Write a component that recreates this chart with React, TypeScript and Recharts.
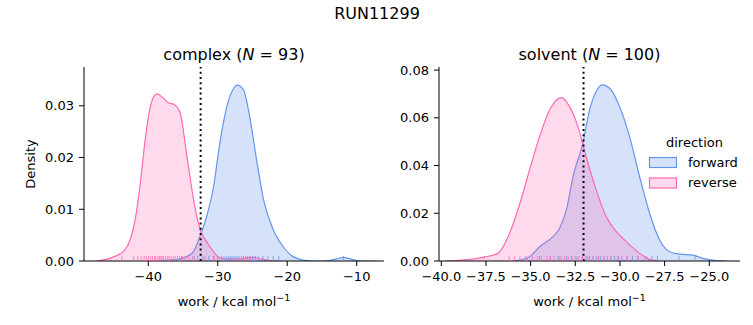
import React from 'react';
import { ComposedChart, Area, XAxis, YAxis, Scatter, ReferenceLine } from 'recharts';

const FONT = '"DejaVu Sans", Verdana, sans-serif';
const BLUE = '#6495ED';
const PINK = '#FF69B4';

// ---- complex panel ----
const complexFwdX = [-38.5, -37.8, -36.5, -35.4, -34.4, -33.5, -32.5, -31.6, -30.6, -29.7, -28.7, -27.7, -27.2, -26.3, -25.4, -24.4, -23.4, -22.0, -20.6, -19.1, -17.2, -15.5, -14.0, -12.9, -11.9, -10.9, -10.0, -8.5, -7.0];
const complexFwdY = [0, 0.0001, 0.0002, 0.0004, 0.0009, 0.0018, 0.005, 0.0086, 0.0144, 0.0228, 0.0298, 0.0334, 0.034, 0.0331, 0.0279, 0.0195, 0.0118, 0.006, 0.0028, 0.0008, 0.0001, 0.0, 0.0001, 0.0004, 0.0007, 0.0004, 0.0001, 0, 0];
const complexRevX = [-47.5, -46.0, -45.0, -43.6, -42.6, -41.9, -41.2, -40.5, -39.8, -39.2, -38.7, -38.1, -37.1, -36.2, -35.4, -34.7, -34.0, -33.3, -32.5, -31.6, -30.6, -29.7, -28.5, -27.0, -25.8, -24.9, -23.8, -22.5, -21.0];
const complexRevY = [0, 0.0003, 0.0008, 0.0018, 0.0041, 0.0079, 0.0144, 0.0228, 0.0292, 0.0318, 0.0323, 0.0318, 0.0306, 0.0302, 0.0286, 0.0228, 0.0163, 0.0105, 0.006, 0.0037, 0.0018, 0.0006, 0.0004, 0.0004, 0.0006, 0.0007, 0.0004, 0.0001, 0];
const complexRugFwd = [-35.2, -33.4, -32.1, -31.3, -30.6, -30.0, -29.5, -29.1, -28.7, -28.4, -28.1, -27.8, -27.5, -27.2, -26.9, -26.6, -26.3, -26.0, -25.7, -25.4, -25.0, -24.6, -24.1, -23.5, -22.8, -22.0, -21.2, -11.9];
const complexRugRev = [-43.8, -42.1, -41.5, -41.0, -40.6, -40.3, -40.0, -39.7, -39.4, -39.1, -38.9, -38.6, -38.4, -38.2, -38.0, -37.8, -37.5, -37.2, -37.0, -36.7, -36.4, -36.1, -35.8, -35.5, -35.1, -34.7, -34.2, -33.6, -32.9, -31.8, -30.5, -25.3, -24.6];
const complexThreshold = -32.46;
const complexXTicks = [-40, -30, -20, -10];
const complexYTicks = [0, 0.01, 0.02, 0.03];

// ---- solvent panel ----
const solventFwdX = [-36.0, -35.6, -35.06, -34.5, -33.75, -33.38, -33.0, -32.63, -32.08, -31.7, -31.33, -31.0, -30.58, -30.02, -29.46, -28.9, -28.34, -27.78, -27.22, -26.66, -25.92, -25.36, -24.6, -24.0];
const solventFwdY = [0, 0.0004, 0.0018, 0.006, 0.0102, 0.0137, 0.0214, 0.0353, 0.0493, 0.0633, 0.071, 0.0738, 0.0724, 0.0647, 0.0521, 0.0353, 0.02, 0.0088, 0.0039, 0.0029, 0.0025, 0.0011, 0.0002, 0];
const solventRevX = [-39.8, -39.0, -38.23, -37.48, -36.83, -36.18, -35.6, -35.06, -34.5, -33.94, -33.28, -32.82, -32.35, -31.89, -31.33, -30.77, -30.2, -29.65, -28.9, -28.34, -27.8];
const solventRevY = [0, 0.0003, 0.0008, 0.0018, 0.0032, 0.0116, 0.0242, 0.0382, 0.0521, 0.0633, 0.0685, 0.0647, 0.0563, 0.0437, 0.0298, 0.0186, 0.0123, 0.0081, 0.0032, 0.0007, 0];
const solventRugFwd = [-35.3, -34.5, -33.9, -33.4, -33.0, -32.7, -32.4, -32.1, -31.9, -31.7, -31.5, -31.3, -31.1, -30.9, -30.7, -30.5, -30.3, -30.1, -29.9, -29.6, -29.3, -29.0, -28.6, -28.2, -27.9, -26.7, -25.8];
const solventRugRev = [-37.6, -36.2, -35.9, -35.6, -35.2, -34.9, -34.6, -34.4, -34.1, -33.9, -33.7, -33.5, -33.3, -33.1, -32.9, -32.7, -32.5, -32.3, -32.1, -31.8, -31.5, -31.2, -30.9, -30.5, -30.1, -29.6, -29.0, -28.5];
const solventThreshold = -32.04;
const solventXTicks = [-40, -37.5, -35, -32.5, -30, -27.5, -25];
const solventYTicks = [0, 0.02, 0.04, 0.06, 0.08];

function merge(fx: number[], fy: number[], rx: number[], ry: number[]) {
  const rows: any[] = [];
  fx.forEach((x, i) => rows.push({ x, fwd: fy[i] }));
  rx.forEach((x, i) => rows.push({ x, rev: ry[i] }));
  rows.sort((a, b) => a.x - b.x);
  return rows;
}

const fmt = (d: number) => (v: number) => (v < 0 ? '\u2212' : '') + Math.abs(v).toFixed(d);

const rugShape = (color: string) => (props: any) => {
  const { cx, cy } = props;
  if (cx == null || cy == null) return <g />;
  return <line x1={cx} x2={cx} y1={cy} y2={cy - 5} stroke={color} strokeOpacity={0.75} strokeWidth={1} />;
};

const tickStyle = { fill: '#000', fontSize: 13, fontFamily: FONT };

function Panel(props: {
  width: number; left: number; marginLeft: number; marginRight: number; yWidth: number;
  fx: number[]; fy: number[]; rx: number[]; ry: number[]; rugF: number[]; rugR: number[];
  xDomain: [number, number]; yDomain: [number, number]; xTicks: number[]; yTicks: number[];
  xDigits: number; threshold: number;
}) {
  const data = merge(props.fx, props.fy, props.rx, props.ry);
  return (
    <div style={{ position: 'absolute', left: props.left, top: 0 }}>
      <ComposedChart width={props.width} height={325} data={data}
        margin={{ top: 67, right: props.marginRight, bottom: 34, left: props.marginLeft }}>
        <XAxis dataKey="x" type="number" domain={props.xDomain} ticks={props.xTicks} allowDataOverflow
          tickFormatter={fmt(props.xDigits)} tick={tickStyle} tickSize={5} tickMargin={6} height={30}
          axisLine={{ stroke: '#000', strokeWidth: 1 }} tickLine={{ stroke: '#000', strokeWidth: 1 }} interval={0} />
        <YAxis type="number" domain={props.yDomain} ticks={props.yTicks} allowDataOverflow
          tickFormatter={fmt(2)} tick={tickStyle} tickSize={5} tickMargin={5} width={props.yWidth}
          axisLine={{ stroke: '#000', strokeWidth: 1 }} tickLine={{ stroke: '#000', strokeWidth: 1 }} interval={0} />
        <Area dataKey="fwd" type="monotone" connectNulls stroke={BLUE} strokeWidth={1.2}
          fill={BLUE} fillOpacity={0.27} isAnimationActive={false} dot={false} activeDot={false} />
        <Area dataKey="rev" type="monotone" connectNulls stroke={PINK} strokeWidth={1.2}
          fill={PINK} fillOpacity={0.25} isAnimationActive={false} dot={false} activeDot={false} />
        <Scatter data={props.rugF.map((x) => ({ x, r: 0 }))} dataKey="r" shape={rugShape(BLUE)} isAnimationActive={false} />
        <Scatter data={props.rugR.map((x) => ({ x, r: 0 }))} dataKey="r" shape={rugShape(PINK)} isAnimationActive={false} />
        <ReferenceLine x={props.threshold} stroke="#000" strokeWidth={2} strokeDasharray="2 3.2" />
      </ComposedChart>
    </div>
  );
}

export default function App() {
  return (
    <div style={{ position: 'absolute', left: 0, top: 0, width: 753, height: 325, background: '#fff', fontFamily: FONT }}>
      <Panel width={395} left={0} marginLeft={34} marginRight={11} yWidth={50}
        fx={complexFwdX} fy={complexFwdY} rx={complexRevX} ry={complexRevY}
        rugF={complexRugFwd} rugR={complexRugRev}
        xDomain={[-49.25, -6.07]} yDomain={[0, 0.0375]} xTicks={complexXTicks} yTicks={complexYTicks}
        xDigits={0} threshold={complexThreshold} />
      <Panel width={358} left={395} marginLeft={0} marginRight={13} yWidth={44}
        fx={solventFwdX} fy={solventFwdY} rx={solventRevX} ry={solventRevY}
        rugF={solventRugFwd} rugR={solventRugRev}
        xDomain={[-40.13, -23.28]} yDomain={[0, 0.0813]} xTicks={solventXTicks} yTicks={solventYTicks}
        xDigits={1} threshold={solventThreshold} />
      <svg width={753} height={325} style={{ position: 'absolute', left: 0, top: 0, pointerEvents: 'none' }}
        fontFamily={FONT} fill="#000">
        <text x={377} y={19} fontSize={16} textAnchor="middle">RUN11299</text>
        <text x={234} y={60} fontSize={16} textAnchor="middle">
          complex (<tspan fontStyle="italic">N</tspan> = 93)
        </text>
        <text x={589.5} y={60} fontSize={16} textAnchor="middle">
          solvent (<tspan fontStyle="italic">N</tspan> = 100)
        </text>
        <text x={35} y={164} fontSize={13} textAnchor="middle" transform="rotate(-90 35 164)">Density</text>
        <text x={234} y={305.5} fontSize={13} textAnchor="middle">
          work / kcal mol<tspan dy={-5} fontSize={9.5}>{'\u22121'}</tspan>
        </text>
        <text x={589.5} y={305.5} fontSize={13} textAnchor="middle">
          work / kcal mol<tspan dy={-5} fontSize={9.5}>{'\u22121'}</tspan>
        </text>
        <text x={694.5} y={146.5} fontSize={13} textAnchor="middle">direction</text>
        <rect x={649.5} y={157.5} width={27} height={10} fill={BLUE} fillOpacity={0.27} stroke={BLUE} strokeWidth={1.2} />
        <text x={688} y={166.5} fontSize={13}>forward</text>
        <rect x={649.5} y={178} width={27} height={10} fill={PINK} fillOpacity={0.25} stroke={PINK} strokeWidth={1.2} />
        <text x={688} y={187} fontSize={13}>reverse</text>
      </svg>
    </div>
  );
}
